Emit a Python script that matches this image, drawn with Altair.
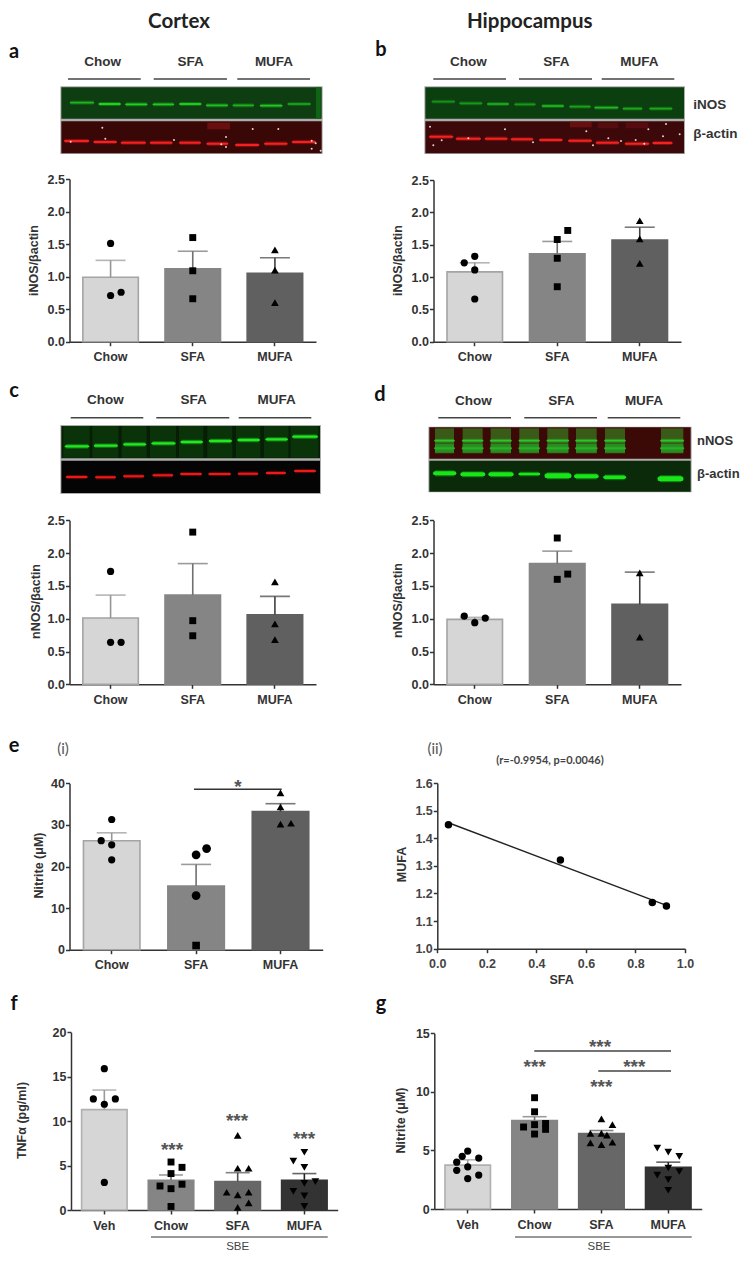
import altair as alt
import pandas as pd

# ------------------ values ------------------
CATS3 = ["Chow", "SFA", "MUFA"]
CATS4 = ["Veh", "Chow", "SFA", "MUFA"]
FILL3 = ["#d6d6d6", "#858585", "#606060"]
EDGE3 = ["#a4a4a4", "#858585", "#606060"]
ERR3 = ["#969696", "#707070", "#404040"]
FILL4 = ["#d6d6d6", "#858585", "#676767", "#333333"]
EDGE4 = ["#b0b0b0", "#858585", "#676767", "#333333"]
ERR4 = ["#9a9a9a", "#707070", "#505050", "#222222"]

A_VAL = [0.99, 1.12, 1.05]
A_ERR = [1.25, 1.39, 1.29]
A_PTS = [("Chow", 1.51, 0), ("Chow", 0.71, 0), ("Chow", 0.76, 1),
         ("SFA", 1.60, 0), ("SFA", 1.09, 0), ("SFA", 0.66, 0),
         ("MUFA", 1.41, 0), ("MUFA", 1.10, 0), ("MUFA", 0.60, 0)]
B_VAL = [1.08, 1.36, 1.57]
B_ERR = [1.22, 1.55, 1.77]
B_PTS = [("Chow", 1.32, 0), ("Chow", 1.22, -1), ("Chow", 1.11, 0), ("Chow", 0.66, 0),
         ("SFA", 1.72, 1), ("SFA", 1.58, 0), ("SFA", 1.29, 0), ("SFA", 0.85, 0),
         ("MUFA", 1.87, 0), ("MUFA", 1.59, 0), ("MUFA", 1.21, 0)]
C_VAL = [1.01, 1.36, 1.06]
C_ERR = [1.36, 1.84, 1.34]
C_PTS = [("Chow", 1.72, 0), ("Chow", 0.64, 0), ("Chow", 0.64, 1),
         ("SFA", 2.32, 0), ("SFA", 0.97, 0), ("SFA", 0.74, 0),
         ("MUFA", 1.56, 0), ("MUFA", 0.92, 0), ("MUFA", 0.68, 0)]
D_VAL = [0.99, 1.84, 1.22]
D_ERR = [1.02, 2.03, 1.71]
D_PTS = [("Chow", 1.04, -1), ("Chow", 0.94, 0), ("Chow", 1.01, 1),
         ("SFA", 2.23, 0), ("SFA", 1.60, 0), ("SFA", 1.68, 1),
         ("MUFA", 1.70, 0), ("MUFA", 0.72, 0)]
E_VAL = [26.2, 15.3, 33.2]
E_ERR = [28.1, 20.5, 35.1]
E_PTS = [("Chow", 31.3, 0), ("Chow", 26.2, -1), ("Chow", 25.2, 0), ("Chow", 21.6, 0),
         ("SFA", 24.3, 1), ("SFA", 22.8, 0), ("SFA", 13.0, 0), ("SFA", 1.0, 0),
         ("MUFA", 37.7, 0), ("MUFA", 34.3, 0), ("MUFA", 30.2, 0), ("MUFA", 30.4, 1)]
F_VAL = [11.3, 3.35, 3.2, 3.35]
F_ERR = [13.5, 3.94, 4.2, 4.1]
F_PTS = [("Veh", 15.9, 0), ("Veh", 12.5, -1), ("Veh", 12.5, 1), ("Veh", 11.9, 0), ("Veh", 3.1, 0),
         ("Chow", 5.4, 0), ("Chow", 4.8, 1), ("Chow", 4.1, 0), ("Chow", 2.9, 1),
         ("Chow", 2.7, -1), ("Chow", 2.4, 0), ("Chow", 0.4, 0),
         ("SFA", 8.4, 0), ("SFA", 4.7, 0), ("SFA", 4.7, 1), ("SFA", 2.0, -1),
         ("SFA", 1.7, 0), ("SFA", 2.0, 1), ("SFA", 0.8, 1), ("SFA", 0.3, 0),
         ("MUFA", 6.5, 0), ("MUFA", 5.5, -1), ("MUFA", 4.8, 0), ("MUFA", 3.2, 1),
         ("MUFA", 3.0, 0), ("MUFA", 2.1, -1), ("MUFA", 1.6, 0), ("MUFA", 0.4, 0)]
G_VAL = [3.75, 7.55, 6.45, 3.55]
G_ERR = [4.2, 7.88, 6.7, 4.0]
G_PTS = [("Veh", 4.95, 0), ("Veh", 4.5, -0.5), ("Veh", 4.35, 1), ("Veh", 4.0, -1),
         ("Veh", 3.6, 0), ("Veh", 3.3, -1), ("Veh", 2.9, 1), ("Veh", 2.6, 0),
         ("Chow", 9.5, 0), ("Chow", 8.3, 0), ("Chow", 7.2, 0), ("Chow", 7.0, -1),
         ("Chow", 7.3, 1), ("Chow", 6.8, 1), ("Chow", 6.4, 0),
         ("SFA", 7.7, 0), ("SFA", 7.2, 1), ("SFA", 6.45, -1), ("SFA", 6.45, 0),
         ("SFA", 6.3, 0.5), ("SFA", 5.65, -1), ("SFA", 5.5, 0), ("SFA", 5.7, 1),
         ("MUFA", 5.2, -1), ("MUFA", 4.85, 0), ("MUFA", 4.5, 1), ("MUFA", 3.5, 0),
         ("MUFA", 3.2, 1), ("MUFA", 2.9, -1), ("MUFA", 2.5, 0), ("MUFA", 1.6, 0)]
CORR_SFA = [0.045, 0.497, 0.868, 0.925]
CORR_MUFA = [1.449, 1.321, 1.167, 1.155]
FIT_SFA = [0.045, 0.925]
FIT_MUFA = [1.456, 1.157]

SHAPE3 = {"Chow": "circle", "SFA": "square", "MUFA": "triangle-up"}
SHAPE4 = {"Veh": "circle", "Chow": "square", "SFA": "triangle-up", "MUFA": "triangle-down"}
SIZE = {"circle": 52, "square": 48, "triangle-up": 60, "triangle-down": 60}

# blot lanes, in crop units of the picture (three per pixel)
A_G_X = [(212, 280), (298, 360), (378, 440), (460, 520), (540, 602), (620, 682), (700, 760), (782, 845), (865, 930)]
A_G_Y = [308, 312, 313, 313, 312, 316, 316, 317, 312]
A_G_C = ["#1fb41f", "#20d020", "#20d020", "#20c820", "#20c820", "#20c020", "#1fb01f", "#20c820", "#1a9a1a"]
A_R_X = [(195, 265), (283, 348), (365, 435), (452, 515), (540, 600), (622, 682), (708, 775), (795, 860), (878, 945)]
A_R_Y = [423, 426, 428, 428, 428, 431, 435, 431, 426]
A_SPECK = [(307, 383), (316, 416), (522, 420), (678, 411), (664, 433), (678, 441), (758, 387),
           (835, 387), (935, 422), (947, 430), (935, 446), (962, 452), (212, 425)]
B_G_X = [(172, 238), (255, 320), (338, 400), (420, 480), (502, 565), (585, 645), (660, 728), (745, 800), (825, 890)]
B_G_Y = [305, 310, 312, 313, 318, 320, 323, 326, 326]
B_G_C = ["#189018", "#189818", "#1fb41f", "#189818", "#20c020", "#1aa01a", "#20b420", "#1aa81a", "#1aa81a"]
B_R_X = [(165, 232), (245, 315), (332, 395), (410, 472), (495, 560), (582, 648), (665, 730), (752, 820), (835, 890)]
B_R_Y = [410, 416, 416, 418, 420, 422, 428, 431, 429]
B_SPECK = [(165, 380), (175, 436), (200, 421), (280, 415), (390, 388), (474, 427), (634, 394), (654, 436),
           (700, 415), (738, 423), (782, 420), (808, 431), (820, 388), (864, 409), (873, 372), (914, 403)]
C_G_X = [(198, 264), (285, 350), (373, 435), (458, 523), (545, 605), (630, 692), (716, 776), (800, 860), (880, 950)]
C_G_Y = [229, 227, 223, 220, 216, 213, 210, 208, 200]
C_R_X = [(200, 260), (288, 345), (372, 430), (460, 517), (543, 603), (628, 690), (716, 772), (800, 855), (885, 945)]
C_R_Y = [321, 322, 319, 316, 312, 312, 311, 309, 303]
D_T_X = [(180, 237), (263, 323), (347, 408), (433, 492), (517, 580), (603, 665), (690, 750), (858, 925)]
D_B_X = [(180, 238), (262, 325), (346, 410), (434, 492), (516, 582), (603, 665), (690, 748), (855, 918)]
D_B_Y = [310, 313, 313, 312, 317, 319, 322, 326]
D_B_W = [4, 4, 4, 2.4, 5, 4, 3.5, 5]

WIDTH, HEIGHT = 733, 1245
FONT = "Liberation Sans"
HEAD = "Lato"
INK = "#333333"
ONE = alt.Data(values=[{"a": 1}])


def P(v):
    return v - 8


def bars(cats, vals, errs, pts, shapes, fills, edges, err_cols, x0, x1, y0, y1, ymax, ticks,
         barw, capw, title, tx, ty, jit=10.5, tick_fmt=".1f", sizes=None):
    sx = alt.Scale(domain=cats, range=[P(x0), P(x1)], paddingInner=0, paddingOuter=0)
    sy = alt.Scale(domain=[0, ymax], range=[P(y0), P(y1)], nice=False)
    step = (x1 - x0) / len(cats)
    df = pd.DataFrame({"cat": cats, "val": vals, "err": errs, "fill": fills, "edge": edges, "ec": err_cols})
    rows = []
    for c, v, j in pts:
        sh = shapes[c]
        rows.append({"cat": c, "v": v, "j": j, "sh": sh, "sz": SIZE[sh]})
    if sizes:
        for i, (sh, sz) in sizes.items():
            rows[i]["sh"] = sh
            rows[i]["sz"] = sz
    pf = pd.DataFrame(rows)
    xa = alt.Axis(orient="bottom", offset=-(HEIGHT - P(y0)), title=None, labelAngle=0, labelFont=FONT,
                  labelFontWeight="bold", labelFontSize=12.5, labelColor=INK, labelPadding=5,
                  domainColor=INK, domainWidth=1.5, tickColor=INK, tickWidth=1.5, tickSize=4, grid=False)
    ya = alt.Axis(orient="left", offset=-P(x0), title=title, values=ticks, format=tick_fmt, labelFont=FONT,
                  labelFontWeight="bold", labelFontSize=12.5, labelColor=INK, labelPadding=1,
                  domainColor=INK, domainWidth=1.5, tickColor=INK, tickWidth=1.5, tickSize=4, grid=False,
                  titleFont=FONT, titleFontWeight="bold", titleFontSize=12.5, titleColor=INK,
                  titleX=tx - x0, titleY=P(ty), titleBaseline="middle", titleAnchor="middle", labelFlush=False)
    base = alt.Chart(df)
    X = alt.X("cat:N", scale=sx, sort=cats, axis=xa)
    bar = base.mark_bar(size=barw, strokeWidth=1.6).encode(
        x=X, y=alt.Y("val:Q", scale=sy, axis=ya),
        fill=alt.Fill("fill:N", scale=None), stroke=alt.Stroke("edge:N", scale=None))
    stem = base.mark_rule(strokeWidth=1.6).encode(
        x=X, y=alt.Y("err:Q", scale=sy, axis=ya), y2="val:Q", color=alt.Color("ec:N", scale=None))
    cap = base.mark_tick(orient="horizontal", size=capw, thickness=1.6).encode(
        x=X, y=alt.Y("err:Q", scale=sy, axis=ya), color=alt.Color("ec:N", scale=None))
    dots = alt.Chart(pf).mark_point(filled=True, opacity=1, color="#000000").encode(
        x=X,
        xOffset=alt.XOffset("j:Q", scale=alt.Scale(domain=[-1, 1], range=[step / 2 - jit, step / 2 + jit])),
        y=alt.Y("v:Q", scale=sy, axis=ya),
        shape=alt.Shape("sh:N", scale=None),
        size=alt.Size("sz:Q", scale=None))
    return alt.layer(bar, stem, cap, dots)


def text(t, x, y, size=12.5, weight="bold", color=INK, font=FONT, align="center", baseline="middle", angle=0):
    return alt.Chart(ONE).mark_text(text=t, fontSize=size, fontWeight=weight, color=color, font=font,
                                    align=align, baseline=baseline, angle=angle).encode(
        x=alt.value(P(x)), y=alt.value(P(y)))


def hline(a, b, y, color="#444444", w=1.5):
    return alt.Chart(ONE).mark_rule(color=color, strokeWidth=w).encode(
        x=alt.value(P(a)), x2=alt.value(P(b)), y=alt.value(P(y)))


def stars(x, y, label="***"):
    return text(label, x, y + 10.5, size=19, color="#555555", baseline="alphabetic")


def blot(ox, oy, rects, bands, specks=None):
    sx = alt.Scale(domain=[0, 1125], range=[P(ox), P(ox + 375)], nice=False)
    sy = alt.Scale(domain=[0, 1110], range=[P(oy), P(oy + 370)], nice=False)
    rf = pd.DataFrame(rects, columns=["x0", "x1", "y0", "y1", "c"])
    bf = pd.DataFrame(bands, columns=["x0", "x1", "y", "w", "c"])
    bf["glow"] = bf["w"] + 2.2
    X = alt.X("x0:Q", scale=sx, axis=None)
    Y = alt.Y("y0:Q", scale=sy, axis=None)
    BY = alt.Y("y:Q", scale=sy, axis=None)
    r = alt.Chart(rf).mark_rect().encode(x=X, x2="x1:Q", y=Y, y2="y1:Q", color=alt.Color("c:N", scale=None))
    g = alt.Chart(bf).mark_rule(opacity=0.35).encode(
        x=X, x2="x1:Q", y=BY, color=alt.Color("c:N", scale=None), strokeWidth=alt.StrokeWidth("glow:Q", scale=None))
    b = alt.Chart(bf).mark_rule(strokeCap="round").encode(
        x=X, x2="x1:Q", y=BY, color=alt.Color("c:N", scale=None), strokeWidth=alt.StrokeWidth("w:Q", scale=None))
    parts = [r, g, b]
    if specks:
        sf = pd.DataFrame(specks, columns=["x", "y"])
        parts.append(alt.Chart(sf).mark_point(filled=True, opacity=0.9, color="#f4e8e8", size=4).encode(
            x=alt.X("x:Q", scale=sx, axis=None), y=alt.Y("y:Q", scale=sy, axis=None)))
    return alt.layer(*parts)


def band_list(xs, ys, w, cols):
    cols = cols if isinstance(cols, list) else [cols] * len(xs)
    ws = w if isinstance(w, list) else [w] * len(xs)
    return [(a, b, y, wi, c) for (a, b), y, wi, c in zip(xs, ys, ws, cols)]


GRAY = "#adadad"
blot_a = blot(0, 0,
              [(181, 968, 259, 462, GRAY), (184, 965, 262, 356, "#0d3d10"), (948, 962, 262, 356, "#0f6414"),
               (184, 965, 364, 460, "#3a0707"), (622, 690, 368, 388, "#6a0f10")],
              band_list(A_G_X, A_G_Y, 1.8, A_G_C) + band_list(A_R_X, A_R_Y, 2.0, "#f52020"), A_SPECK)
blot_b = blot(375, 0,
              [(148, 930, 259, 462, GRAY), (151, 927, 262, 356, "#0c3f10"),
               (151, 927, 364, 460, "#3c0809"), (585, 650, 366, 382, "#661010"),
               (668, 730, 368, 385, "#560c0e"), (752, 820, 368, 385, "#560c0e")],
              band_list(B_G_X, B_G_Y, 1.6, B_G_C) + band_list(B_R_X, B_R_Y, 2.0, "#f52020"), B_SPECK)
blot_c = blot(0, 370,
              [(181, 963, 165, 372, GRAY), (184, 960, 168, 265, "#061e06")] +
              [(a - 8, b + 5, 168, 263, "#0a330a") for a, b in C_G_X] +
              [(184, 960, 272, 369, "#040404")],
              band_list(C_G_X, C_G_Y, 2.4, "#22e822") + band_list(C_R_X, C_R_Y, 2.0, "#ee1818"))
blot_d = blot(375, 370,
              [(160, 950, 170, 367, GRAY), (163, 947, 172, 266, "#3c0a06")] +
              [(a, b, 175, 250, "#3a5a18") for a, b in D_T_X] +
              [(a, b, 222, 248, "#2b8a22") for a, b in D_T_X] +
              [(163, 947, 272, 365, "#0a2a0a")],
              band_list(D_T_X, [212] * 8, 1.6, "#28c828") + band_list(D_T_X, [235] * 8, 2.0, "#26b026") +
              band_list(D_B_X, D_B_Y, D_B_W, "#19e619"))

panel_a = bars(CATS3, A_VAL, A_ERR, A_PTS, SHAPE3, FILL3, EDGE3, ERR3, 69.5, 316, 341.7, 179, 2.5,
               [0, 0.5, 1, 1.5, 2, 2.5], 55.5, 30, "iNOS/βactin", 33, 260)
panel_b = bars(CATS3, B_VAL, B_ERR, B_PTS, SHAPE3, FILL3, EDGE3, ERR3, 433.5, 681, 341.7, 180, 2.5,
               [0, 0.5, 1, 1.5, 2, 2.5], 55.5, 30, "iNOS/βactin", 397.7, 260)
panel_c = bars(CATS3, C_VAL, C_ERR, C_PTS, SHAPE3, FILL3, EDGE3, ERR3, 69.5, 316, 684.3, 520.3, 2.5,
               [0, 0.5, 1, 1.5, 2, 2.5], 55.5, 30, "nNOS/βactin", 35, 601)
panel_d = bars(CATS3, D_VAL, D_ERR, D_PTS, SHAPE3, FILL3, EDGE3, ERR3, 433.5, 681, 684.3, 520.3, 2.5,
               [0, 0.5, 1, 1.5, 2, 2.5], 55.5, 30, "nNOS/βactin", 397.7, 600)
panel_e = bars(CATS3, E_VAL, E_ERR, E_PTS,
               SHAPE3, FILL3, EDGE3, ERR3, 69.5, 322.7, 949.7, 783.3, 40,
               [0, 10, 20, 30, 40], 56.5, 30, "Nitrite (μM)", 38, 865, tick_fmt="d",
               sizes={4: ("circle", 76), 5: ("circle", 76), 6: ("circle", 76), 7: ("square", 58)})
panel_f = bars(CATS4, F_VAL, F_ERR, F_PTS, SHAPE4, FILL4, EDGE4, ERR4, 71, 337.7, 1210, 1032.3, 20,
               [0, 5, 10, 15, 20], 45.5, 24, "TNFα (pg/ml)", 21.7, 1120, jit=11, tick_fmt="d")
panel_g = bars(CATS4, G_VAL, G_ERR, G_PTS, SHAPE4, FILL4, EDGE4, ERR4, 434.3, 701.7, 1209, 1033.3, 15,
               [0, 5, 10, 15], 45.5, 24, "Nitrite (μM)", 400, 1120, jit=11, tick_fmt="d")

# correlation panel e(ii)
csx = alt.Scale(domain=[0, 1], range=[P(437.3), P(685)], nice=False)
csy = alt.Scale(domain=[1, 1.6], range=[P(948.7), P(783)], nice=False)
cxa = alt.Axis(orient="bottom", offset=-(HEIGHT - P(948.7)), title="SFA", values=[0, 0.2, 0.4, 0.6, 0.8, 1.0],
               format=".1f", labelFont=FONT, labelFontWeight="bold", labelFontSize=12.5, labelColor="#444444",
               labelPadding=5, domainColor=INK, domainWidth=1.5, tickColor=INK, tickWidth=1.5, tickSize=4,
               grid=False, labelFlush=False, titleFont=FONT, titleFontWeight="bold", titleFontSize=12.5,
               titleColor=INK, titlePadding=3)
cya = alt.Axis(orient="left", offset=-P(437.3), title="MUFA", values=[1.0, 1.1, 1.2, 1.3, 1.4, 1.5, 1.6],
               format=".1f", labelFont=FONT, labelFontWeight="bold", labelFontSize=12.5, labelColor="#444444",
               labelPadding=1, domainColor=INK, domainWidth=1.5, tickColor=INK, tickWidth=1.5, tickSize=4,
               grid=False, labelFlush=False, titleFont=FONT, titleFontWeight="bold", titleFontSize=12.5,
               titleColor=INK, titleX=401.7 - 437.3, titleY=P(864), titleBaseline="middle", titleAnchor="middle")
fit = alt.Chart(pd.DataFrame({"x": FIT_SFA, "y": FIT_MUFA})).mark_line(color="#222222", strokeWidth=1.4).encode(
    x=alt.X("x:Q", scale=csx, axis=cxa), y=alt.Y("y:Q", scale=csy, axis=cya))
corr_pts = alt.Chart(pd.DataFrame({"x": CORR_SFA, "y": CORR_MUFA})).mark_point(
    filled=True, opacity=1, color="#000000", size=56).encode(
    x=alt.X("x:Q", scale=csx, axis=cxa), y=alt.Y("y:Q", scale=csy, axis=cya))
panel_corr = alt.layer(fit, corr_pts)

LET = dict(size=20, font=HEAD, color="#111111")
notes = [
    text("Cortex", 179, 22, size=20.5, font=HEAD, color="#222222"),
    text("Hippocampus", 529.7, 22, size=20.5, font=HEAD, color="#222222"),
    text("a", 14, 52, **LET), text("b", 381, 50, **LET),
    text("c", 14, 391, **LET), text("d", 380, 395, **LET),
    text("e", 14, 746, **LET), text("f", 14, 1004, **LET),
    text("g", 381, 1004, **LET),
    text("Chow", 102.7, 62, size=13.5), text("SFA", 190.7, 62, size=13.5), text("MUFA", 274, 62, size=13.5),
    hline(68, 140.7, 79), hline(153.7, 227, 79), hline(237.3, 310, 79),
    text("Chow", 468.3, 62, size=13.5), text("SFA", 556.3, 62, size=13.5), text("MUFA", 639.3, 62, size=13.5),
    hline(433.3, 506, 79), hline(519, 592, 79), hline(601.7, 674.3, 79),
    text("iNOS", 693.3, 105, size=13.5, align="left"), text("β-actin", 693.3, 134, size=13.5, align="left"),
    text("Chow", 105.3, 400, size=13.5), text("SFA", 193.7, 400, size=13.5), text("MUFA", 276.7, 400, size=13.5),
    hline(70.7, 143.3, 417.7), hline(156.3, 229.3, 417.7), hline(238.7, 311.3, 417.7),
    text("Chow", 473.3, 401, size=13.5), text("SFA", 561.3, 401, size=13.5), text("MUFA", 644, 401, size=13.5),
    hline(438.3, 511, 417.7), hline(524.3, 597, 417.7), hline(607.7, 680.3, 417.7),
    text("nNOS", 697, 441, size=13, align="left"), text("β-actin", 697, 474, size=13, align="left"),
    text("(i)", 63, 749, size=15, weight="normal", font=HEAD, color="#555555"),
    text("(ii)", 435, 749, size=15, weight="normal", font=HEAD, color="#555555"),
    text("(r=-0.9954, p=0.0046)", 550, 760.7, size=11, font=HEAD, color="#444444"),
    hline(194, 281.7, 789.3, "#333333"), stars(238, 782, "*"),
    stars(172, 1145), stars(237, 1116), stars(304, 1134),
    hline(151, 327.7, 1237, "#333333", 1.2), text("SBE", 237.7, 1247, size=11.5, weight="normal", color="#444444"),
    hline(534.3, 671, 1051), hline(598.3, 671, 1071),
    stars(600, 1042.3), stars(534.7, 1062.3), stars(634.3, 1062.7), stars(601.3, 1082.7),
    hline(515, 691.7, 1237, "#333333", 1.2), text("SBE", 599, 1247, size=11.5, weight="normal", color="#444444"),
]

chart = alt.layer(blot_a, blot_b, blot_c, blot_d, panel_a, panel_b, panel_c, panel_d, panel_e, panel_corr,
                  panel_f, panel_g, *notes).resolve_scale(
    x="independent", y="independent", xOffset="independent").resolve_axis(
    x="independent", y="independent").properties(
    width=WIDTH, height=HEIGHT, padding=0, autosize=alt.AutoSizeParams(type="none"),
    background="#ffffff").configure_view(stroke=None)

chart.save("out.html", embed_options={"renderer": "svg", "actions": False})
